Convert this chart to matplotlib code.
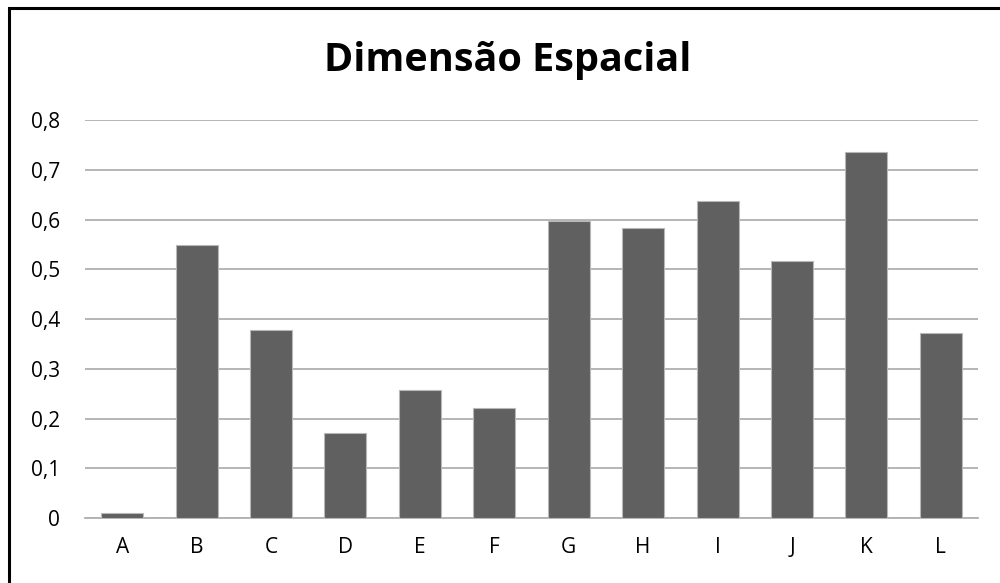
import matplotlib as mpl
mpl.use('Agg')
import matplotlib.pyplot as plt
from matplotlib.patches import Rectangle

categories = ['A', 'B', 'C', 'D', 'E', 'F', 'G', 'H', 'I', 'J', 'K', 'L']
values = [0.01, 0.548, 0.378, 0.171, 0.258, 0.221, 0.598, 0.584, 0.638, 0.517, 0.736, 0.371]
yticks = [0, 0.1, 0.2, 0.3, 0.4, 0.5, 0.6, 0.7, 0.8]
ylabels = ['0', '0,1', '0,2', '0,3', '0,4', '0,5', '0,6', '0,7', '0,8']

plt.rcParams['font.family'] = ['Open Sans', 'DejaVu Sans']

fig = plt.figure(figsize=(10, 5.83), dpi=100)
ax = fig.add_axes([0.085, 0.1115, 0.893, 0.6825])

x = range(len(categories))
ax.bar(x, values, width=0.565, color='#606060', edgecolor='#b8b8b8',
       linewidth=0.8, zorder=3)

ax.set_xlim(-0.5, len(categories) - 0.5)
ax.set_ylim(0, 0.8)
ax.set_yticks(yticks)
ax.set_yticklabels(ylabels)
ax.set_xticks(list(x))
ax.set_xticklabels(categories)
ax.tick_params(axis='y', length=0, pad=18, labelsize=15, colors='#000000')
ax.tick_params(axis='x', length=0, pad=14, labelsize=15, colors='#000000')

ax.grid(axis='y', color='#b0b0b0', linewidth=1.3, zorder=0)
for s in ['top', 'right', 'left']:
    ax.spines[s].set_visible(False)
ax.spines['bottom'].set_color('#b0b0b0')
ax.spines['bottom'].set_linewidth(1.3)

fig.text(0.508, 0.897, 'Dimensão Espacial', ha='center', va='center',
         fontsize=28.5, fontweight='bold')

# chart frame on the left and top edges
fig.patches.append(Rectangle((0.009, -0.05), 1.2, 1.036, transform=fig.transFigure,
                             fill=False, edgecolor='black', linewidth=2.2))

fig.savefig('out.png', dpi=100)
